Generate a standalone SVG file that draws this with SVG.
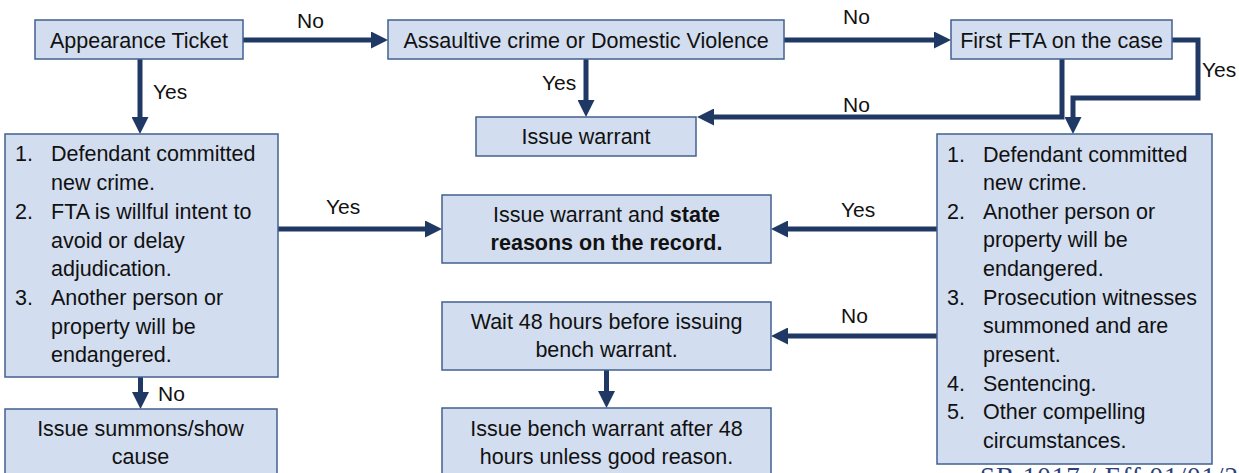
<svg xmlns="http://www.w3.org/2000/svg" width="1239" height="473" viewBox="0 0 1239 473">
<style>
.box{fill:#d2ddef;stroke:#42608f;stroke-width:1.5}
.t{font-family:"Liberation Sans",Arial,sans-serif;font-size:21.5px;fill:#111}
.c{text-anchor:middle}
.b{font-weight:bold}
.lbl{font-family:"Liberation Sans",Arial,sans-serif;font-size:21px;fill:#111}
.cn{fill:none;stroke:#203864;stroke-width:5;stroke-linejoin:miter;marker-end:url(#ah)}
</style>
<defs>
<marker id="ah" markerUnits="userSpaceOnUse" markerWidth="17" markerHeight="17" viewBox="0 0 17 17" refX="3" refY="8.5" orient="auto">
<path d="M0,0 L17,8.5 L0,17 z" fill="#203864"/>
</marker>
</defs>
<rect width="1239" height="473" fill="#fff"/>
<g id="connectors">
<line class="cn" x1="243" y1="40" x2="374" y2="40"/>
<line class="cn" x1="784" y1="40" x2="937" y2="40"/>
<line class="cn" x1="140" y1="59" x2="140" y2="120"/>
<line class="cn" x1="586" y1="59" x2="586" y2="103"/>
<polyline class="cn" points="1062,59 1062,117 711,117"/>
<polyline class="cn" points="1172,40 1198,40 1198,98 1073,98 1073,120"/>
<line class="cn" x1="278" y1="229" x2="428" y2="229"/>
<line class="cn" x1="937" y1="229" x2="785" y2="229"/>
<line class="cn" x1="937" y1="336" x2="785" y2="336"/>
<line class="cn" x1="140.5" y1="377" x2="140.5" y2="395"/>
<line class="cn" x1="606.5" y1="370" x2="606.5" y2="394"/>
<text class="lbl" x="297" y="28">No</text>
<text class="lbl" x="843" y="24">No</text>
<text class="lbl" x="153" y="99">Yes</text>
<text class="lbl" x="542" y="90">Yes</text>
<text class="lbl" x="1202" y="77">Yes</text>
<text class="lbl" x="843" y="112">No</text>
<text class="lbl" x="326" y="214">Yes</text>
<text class="lbl" x="841" y="217">Yes</text>
<text class="lbl" x="841" y="323">No</text>
<text class="lbl" x="158" y="401">No</text>
</g>
<g id="appearance-ticket">
<rect class="box" x="35" y="20" width="208" height="39"/>
<text class="t c" x="139" y="48">Appearance Ticket</text>
</g>
<g id="assaultive">
<rect class="box" x="388" y="20" width="396" height="39"/>
<text class="t c" x="586" y="48">Assaultive crime or Domestic Violence</text>
</g>
<g id="first-fta">
<rect class="box" x="951" y="20" width="221" height="39"/>
<text class="t c" x="1061.5" y="48">First FTA on the case</text>
</g>
<g id="issue-warrant">
<rect class="box" x="476" y="117" width="220" height="39"/>
<text class="t c" x="586" y="144">Issue warrant</text>
</g>
<g id="left-criteria">
<rect class="box" x="5" y="134" width="273" height="243"/>
<text class="t" x="15" y="161">1.</text><text class="t" x="51" y="161">Defendant committed</text>
<text class="t" x="51" y="190">new crime.</text>
<text class="t" x="15" y="219">2.</text><text class="t" x="51" y="219">FTA is willful intent to</text>
<text class="t" x="51" y="248">avoid or delay</text>
<text class="t" x="51" y="276">adjudication.</text>
<text class="t" x="15" y="305">3.</text><text class="t" x="51" y="305">Another person or</text>
<text class="t" x="51" y="334">property will be</text>
<text class="t" x="51" y="362">endangered.</text>
</g>
<g id="issue-summons">
<rect class="box" x="5" y="409" width="272" height="80"/>
<text class="t c" x="140.5" y="436">Issue summons/show</text>
<text class="t c" x="140.5" y="464">cause</text>
</g>
<g id="warrant-reasons">
<rect class="box" x="442" y="195" width="329" height="68"/>
<text class="t c" x="606.5" y="222">Issue warrant and <tspan class="b">state</tspan></text>
<text class="t c b" x="606.5" y="250">reasons on the record.</text>
</g>
<g id="wait-48">
<rect class="box" x="442" y="302" width="329" height="68"/>
<text class="t c" x="606.5" y="329">Wait 48 hours before issuing</text>
<text class="t c" x="606.5" y="357">bench warrant.</text>
</g>
<g id="bench-warrant">
<rect class="box" x="442" y="408" width="329" height="80"/>
<text class="t c" x="606.5" y="436">Issue bench warrant after 48</text>
<text class="t c" x="606.5" y="464">hours unless good reason.</text>
</g>
<g id="right-criteria">
<rect class="box" x="937" y="134" width="275" height="330"/>
<text class="t" x="947" y="161.5">1.</text><text class="t" x="983" y="161.5">Defendant committed</text>
<text class="t" x="983" y="190">new crime.</text>
<text class="t" x="947" y="218.7">2.</text><text class="t" x="983" y="218.7">Another person or</text>
<text class="t" x="983" y="247.3">property will be</text>
<text class="t" x="983" y="276">endangered.</text>
<text class="t" x="947" y="304.6">3.</text><text class="t" x="983" y="304.6">Prosecution witnesses</text>
<text class="t" x="983" y="333">summoned and are</text>
<text class="t" x="983" y="362">present.</text>
<text class="t" x="947" y="390.5">4.</text><text class="t" x="983" y="390.5">Sentencing.</text>
<text class="t" x="947" y="419">5.</text><text class="t" x="983" y="419">Other compelling</text>
<text class="t" x="983" y="447.7">circumstances.</text>
</g>
<text x="980" y="486" font-family="'Liberation Serif',serif" font-size="27" fill="#2b3f7a" letter-spacing="1">SB 1017 / Eff 01/01/21</text>
</svg>
